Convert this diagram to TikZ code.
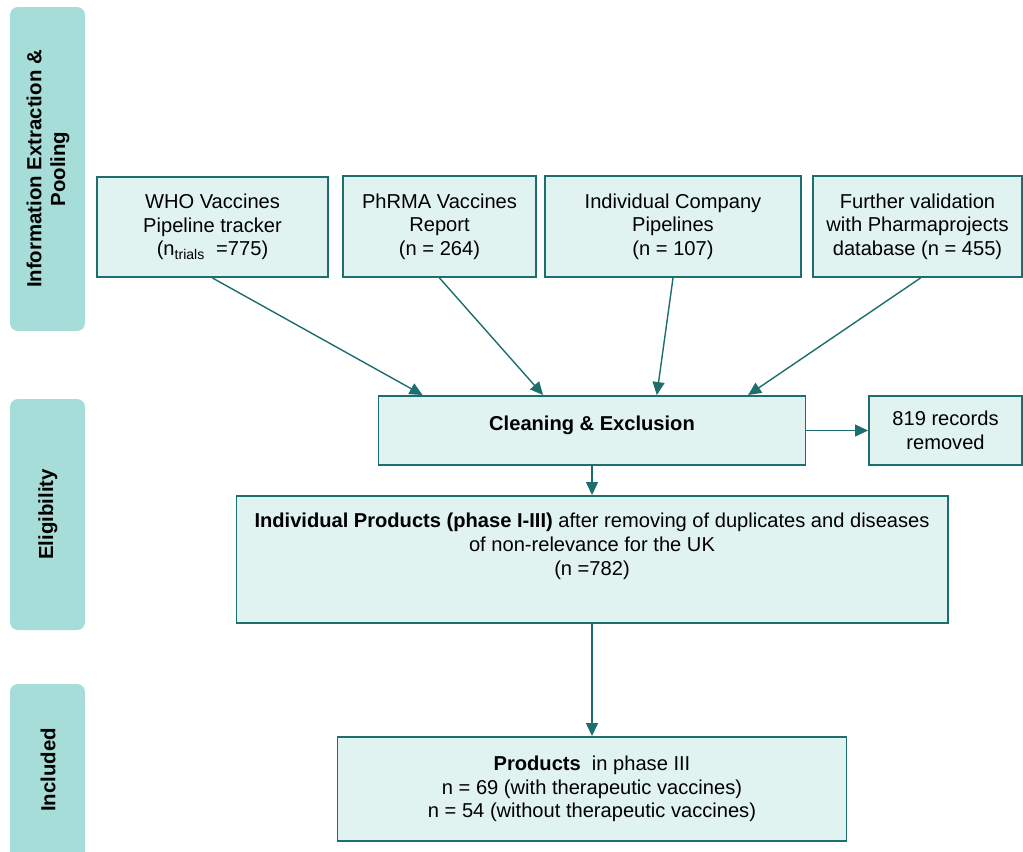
\documentclass[tikz,border=0pt]{standalone}
\usepackage{fontspec}
\setmainfont{Liberation Sans}
\usetikzlibrary{arrows.meta,calc}
\definecolor{teal}{HTML}{1D6E6E}
\definecolor{boxfill}{HTML}{E0F3F1}
\definecolor{bandfill}{HTML}{A7DDD8}
\def\pxu{0.025cm}
\begin{document}
\begin{tikzpicture}[x=0.025cm, y=-0.025cm,
	box/.style={draw=teal, line width=1.4pt, fill=boxfill, align=center, inner sep=0pt,
		font=\fontsize{14.3}{16.8}\selectfont},
	band/.style={fill=bandfill, rounded corners=8*\pxu},
	bandlabel/.style={rotate=90, align=center, font=\fontsize{14.5}{17}\selectfont\bfseries},
	arr/.style={draw=teal, line width=1pt, -{Triangle[length=13*\pxu, width=12*\pxu]}}]
	\useasboundingbox (0,0) rectangle (1023,851);
	\fill[band] (10,7) rectangle (85,331);
	\fill[band] (10,399) rectangle (85,630);
	\fill[band] (10,684) rectangle (85,862);
	\node[bandlabel] (lab1) at (48,169) {Information Extraction \&\\Pooling};
	\node[bandlabel] (lab2) at (48,514.5) {Eligibility};
	\node[bandlabel] (lab3) at (48,770) {Included};
	\node[box, minimum width=231*\pxu, minimum height=100*\pxu] (who) at (212.5,227) {WHO Vaccines\\Pipeline tracker\\(n\textsubscript{trials}\ \ =775)};
	\node[box, minimum width=193*\pxu, minimum height=101*\pxu] (phrma) at (439.5,226.5) {PhRMA Vaccines\\Report\\(n = 264)};
	\node[box, minimum width=256*\pxu, minimum height=101*\pxu] (company) at (673,226.5) {Individual Company\\Pipelines\\(n = 107)};
	\node[box, minimum width=209*\pxu, minimum height=101*\pxu] (further) at (917.5,226.5) {Further validation\\with Pharmaprojects\\database (n = 455)};
	\node[box, minimum width=427*\pxu, minimum height=69*\pxu, text depth=14*\pxu] (clean) at (592,430.5) {\textbf{Cleaning \& Exclusion}};
	\node[box, minimum width=153*\pxu, minimum height=69*\pxu] (removed) at (945.5,430.5) {819 records\\removed};
	\node[box, minimum width=711*\pxu, minimum height=127*\pxu] (products) at (592,559.5) {\textbf{Individual Products (phase I-III)} after removing of duplicates and diseases\\of non-relevance for the UK\\(n =782)\\ \strut};
	\node[box, minimum width=509*\pxu, minimum height=104*\pxu] (phase3) at (592,789) {\textbf{Products}\ \ in phase III\\n = 69 (with therapeutic vaccines)\\n = 54 (without therapeutic vaccines)};
	\coordinate (in1) at ($(clean.north west)!0.105!(clean.north east)$);
	\coordinate (in2) at ($(clean.north west)!0.386!(clean.north east)$);
	\coordinate (in3) at ($(clean.north west)!0.651!(clean.north east)$);
	\coordinate (in4) at ($(clean.north west)!0.864!(clean.north east)$);
	\draw[arr] (who.south) -- (in1);
	\draw[arr] (phrma.south) -- (in2);
	\draw[arr] (company.south) -- (in3);
	\draw[arr] ([xshift=3*\pxu]further.south) -- (in4);
	\draw[arr] (clean.east) -- (removed.west);
	\draw[arr] (clean.south) -- (products.north);
	\draw[arr] (products.south) -- (phase3.north);
\end{tikzpicture}
\end{document}
